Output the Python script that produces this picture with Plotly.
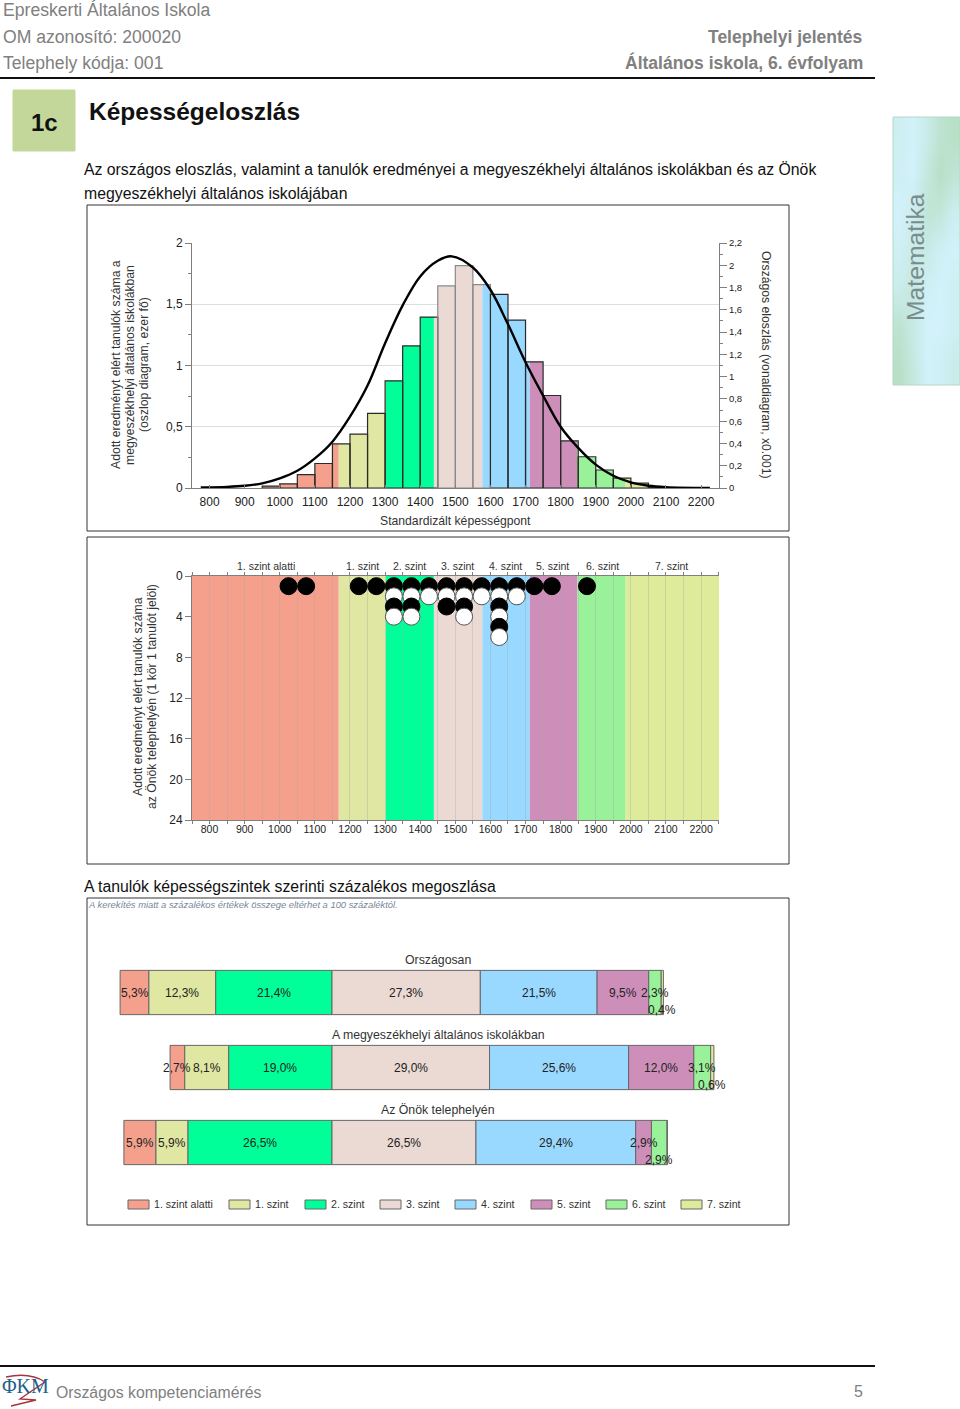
import plotly.graph_objects as go

W = 960
H = 1409
FONT = "Liberation Sans"

level_names = ["1. szint alatti", "1. szint", "2. szint", "3. szint", "4. szint", "5. szint", "6. szint", "7. szint"]
level_colors = ["#F4A08D", "#DFE7A2", "#00FF99", "#EBDAD3", "#99D9FF", "#CD8FBA", "#99F299", "#DEEB9A"]
level_edges = [750, 1168, 1302, 1439, 1577, 1712, 1848, 1985, 2251]
level_label_scores = [960, 1235, 1370, 1507, 1644, 1778, 1918, 2117]

# histogram of the county-seat schools, thousand students per 50 point bin
bin_left = [950, 1000, 1050, 1100, 1150, 1200, 1250, 1300, 1350, 1400, 1450, 1500,
            1550, 1600, 1650, 1700, 1750, 1800, 1850, 1900, 1950, 2000, 2050]
bin_values = [0.016, 0.033, 0.11, 0.20, 0.36, 0.44, 0.61, 0.875, 1.16, 1.395, 1.65, 1.815,
              1.66, 1.58, 1.37, 1.03, 0.755, 0.385, 0.255, 0.147, 0.08, 0.04, 0.01]
BIN_W = 50

# national distribution curve
curve_x = [775, 850, 900, 950, 1000, 1050, 1100, 1150, 1200, 1250, 1300, 1350, 1400, 1450,
           1490, 1550, 1600, 1650, 1700, 1750, 1800, 1850, 1900, 1950, 2000, 2050, 2100, 2225]
curve_y = [0.005, 0.01, 0.02, 0.042, 0.087, 0.155, 0.266, 0.416, 0.64, 0.92, 1.30, 1.64, 1.90, 2.04,
           2.08, 1.98, 1.78, 1.47, 1.13, 0.83, 0.55, 0.36, 0.21, 0.11, 0.05, 0.02, 0.008, 0.0]

# one circle per student, stacked in columns
dot_scores = [1025, 1075, 1225, 1275, 1325, 1375, 1425, 1475, 1525, 1575, 1625, 1675, 1725, 1775, 1875]
dot_counts = [1, 1, 1, 1, 4, 4, 2, 3, 4, 2, 6, 2, 1, 1, 1]

tick_scores = [800, 900, 1000, 1100, 1200, 1300, 1400, 1500, 1600, 1700, 1800, 1900, 2000, 2100, 2200]
left_ticks = [0, 0.5, 1, 1.5, 2]
left_ticktext = ["0", "0,5", "1", "1,5", "2"]
right_ticks = [0, 0.2, 0.4, 0.6, 0.8, 1, 1.2, 1.4, 1.6, 1.8, 2, 2.2]
right_ticktext = ["0", "0,2", "0,4", "0,6", "0,8", "1", "1,2", "1,4", "1,6", "1,8", "2", "2,2"]
dot_ticks = [0, 4, 8, 12, 16, 20, 24]

# percentage split
area_names = ["Országosan", "A megyeszékhelyi általános iskolákban", "Az Önök telephelyén"]
share_national = [5.3, 12.3, 21.4, 27.3, 21.5, 9.5, 2.3, 0.4]
share_county = [2.7, 8.1, 19.0, 29.0, 25.6, 12.0, 3.1, 0.6]
share_site = [5.9, 5.9, 26.5, 26.5, 29.4, 2.9, 2.9, 0.0]
shares = [share_national, share_county, share_site]


def xdom(a, b):
    return [a / W, b / W]


def ydom(top, bottom):
    return [1 - bottom / H, 1 - top / H]


annotations = []
shapes = []


def label(x, y, text, size=12, color="#222222", anchor="left", angle=0, bold=False, italic=False, family=FONT):
    if bold:
        text = "<b>" + text + "</b>"
    if italic:
        text = "<i>" + text + "</i>"
    annotations.append(dict(x=x / W, y=1 - y / H, xref="paper", yref="paper", text=text, showarrow=False,
                            xanchor=anchor, yanchor="middle", textangle=angle, align="center",
                            borderwidth=0, borderpad=0,
                            font=dict(family=family, size=size, color=color)))


def box(x0, y0, x1, y1, fill="rgba(0,0,0,0)", line="#333333", width=1):
    shapes.append(dict(type="rect", xref="paper", yref="paper", x0=x0 / W, x1=x1 / W,
                       y0=1 - y0 / H, y1=1 - y1 / H, fillcolor=fill, line=dict(color=line, width=width)))


def hline(x0, x1, y, width=2):
    shapes.append(dict(type="line", xref="paper", yref="paper", x0=x0 / W, x1=x1 / W,
                       y0=1 - y / H, y1=1 - y / H, line=dict(color="#111111", width=width)))


fig = go.Figure()

# chart 1: bars split along the level edges, then outlines on top
for i, left in enumerate(level_edges[:-1]):
    right = level_edges[i + 1]
    xs, ws, ys = [], [], []
    for b, v in zip(bin_left, bin_values):
        a = max(b, left)
        c = min(b + BIN_W, right)
        if c > a:
            xs.append((a + c) / 2)
            ws.append(c - a)
            ys.append(v)
    fig.add_bar(x=xs, y=ys, width=ws, marker=dict(color=level_colors[i], line=dict(width=0)),
                name=level_names[i], xaxis="x", yaxis="y")

outline = []
for b in bin_left:
    outline.append("#8a8a8a" if 1450 <= b < 1600 else "#2a2a2a")
fig.add_bar(x=[b + BIN_W / 2 for b in bin_left], y=bin_values, width=BIN_W,
            marker=dict(color="rgba(0,0,0,0)", line=dict(color=outline, width=1.2)),
            xaxis="x", yaxis="y", hoverinfo="skip")
fig.add_scatter(x=curve_x, y=curve_y, mode="lines", line=dict(color="#000000", width=2.4, shape="spline"),
                xaxis="x", yaxis="y2", name="Országos eloszlás")

# chart 2: level bands and student circles
for i, left in enumerate(level_edges[:-1]):
    shapes.append(dict(type="rect", xref="x2", yref="y3", x0=left, x1=level_edges[i + 1], y0=0, y1=24,
                       fillcolor=level_colors[i], line=dict(width=0), layer="below"))
    annotations.append(dict(x=level_label_scores[i], y=1 - 566 / H, xref="x2", yref="paper",
                            text=level_names[i], showarrow=False, font=dict(family=FONT, size=10.5, color="#333333")))

dot_x, dot_y, dot_fill, dot_line = [], [], [], []
for score, count in zip(dot_scores, dot_counts):
    for k in range(count):
        dot_x.append(score)
        dot_y.append(k + 1)
        dot_fill.append("#000000" if k % 2 == 0 else "#FFFFFF")
        dot_line.append("#000000" if k % 2 == 0 else "#555555")
fig.add_scatter(x=dot_x, y=dot_y, mode="markers", xaxis="x2", yaxis="y3", name="tanulók",
                marker=dict(size=17, color=dot_fill, line=dict(color=dot_line, width=1)))

# chart 3: stacked shares around the 2./3. level border
for j, name in enumerate(level_names):
    vals = [row[j] for row in shares]
    bases = [sum(row[:j]) - sum(row[:3]) for row in shares]
    fig.add_bar(y=[0, 1, 2], x=vals, base=bases, orientation="h", width=0.59, name=name,
                marker=dict(color=level_colors[j], line=dict(color="#666666", width=1)),
                xaxis="x3", yaxis="y4")
    for r, row in enumerate(shares):
        if row[j] == 0:
            continue
        # the thin last segments carry their label a bit lower
        low = (j == 7) or (r == 2 and j == 6)
        annotations.append(dict(x=bases[r] + vals[r] / 2, y=r, xref="x3", yref="y4", showarrow=False,
                                text=f"{row[j]:.1f}%".replace(".", ","), yshift=-17 if low else 0,
                                font=dict(family=FONT, size=12, color="#222222")))

# side tab gradient
tab_z = [[0.15, 0.0, 0.3, 0.8, 1.0],
         [0.1, 0.0, 0.5, 1.0, 0.7],
         [0.0, 0.2, 0.7, 0.6, 0.2],
         [0.1, 0.35, 0.4, 0.1, 0.0],
         [0.3, 0.5, 0.1, 0.0, 0.1],
         [0.8, 0.4, 0.0, 0.0, 0.1],
         [1.0, 0.5, 0.0, 0.1, 0.3]]
fig.add_heatmap(z=tab_z, zsmooth="best", showscale=False, hoverinfo="skip", xaxis="x4", yaxis="y5",
                colorscale=[[0, "#D2F1FA"], [1, "#B7E0C6"]])

axis_line = "#7f7f7f"
fig.update_layout(
    width=W,
    height=H,
    margin=dict(l=0, r=0, t=0, b=0, autoexpand=False),
    paper_bgcolor="white",
    plot_bgcolor="white",
    showlegend=False,
    barmode="overlay",
    font=dict(family=FONT, color="#222222"),
    xaxis=dict(domain=xdom(192, 719), anchor="y", range=[750, 2251], tickvals=tick_scores,
               ticktext=[str(t) for t in tick_scores], ticks="inside", ticklen=3, tickcolor=axis_line,
               showgrid=False, zeroline=False, showline=True, linecolor=axis_line, tickfont=dict(size=12),
               ticklabelstandoff=3),
    yaxis=dict(domain=ydom(243, 488), anchor="x", range=[0, 2], tickvals=left_ticks, ticktext=left_ticktext,
               ticks="outside", ticklen=6, tickcolor=axis_line, showline=True, linecolor=axis_line,
               gridcolor="#d9dfe0", gridwidth=1.2, zeroline=False, tickfont=dict(size=12),
               minor=dict(dtick=0.25, ticks="outside", ticklen=3, tickcolor=axis_line, showgrid=False)),
    yaxis2=dict(overlaying="y", side="right", anchor="x", range=[0, 2.2], tickvals=right_ticks,
                ticktext=right_ticktext, ticks="outside", ticklen=7, tickcolor=axis_line, showgrid=False,
                showline=True, linecolor=axis_line, zeroline=False, tickfont=dict(size=9.5),
                minor=dict(dtick=0.1, ticks="outside", ticklen=3, tickcolor=axis_line, showgrid=False)),
    xaxis2=dict(domain=xdom(192, 719), anchor="y3", range=[750, 2251], tickmode="array",
                tickvals=[s + d for s in tick_scores for d in (-50, 0)] + [2250],
                ticktext=[t for s in tick_scores for t in ("", str(s))] + [""],
                ticks="outside", ticklen=3, tickcolor=axis_line, showgrid=True,
                gridcolor="rgba(165,165,165,0.35)", zeroline=False, showline=True, linecolor=axis_line,
                mirror="ticks", tickfont=dict(size=10.5), ticklabelstandoff=-4),
    yaxis3=dict(domain=ydom(576, 820), anchor="x2", range=[24, 0], tickvals=dot_ticks, ticks="outside",
                ticklen=6, tickcolor=axis_line, showgrid=False, zeroline=False, showline=True,
                linecolor=axis_line, tickfont=dict(size=12)),
    xaxis3=dict(domain=xdom(100, 740), anchor="y4", range=[-42.7, 75.1], visible=False),
    yaxis4=dict(domain=ydom(955, 1180), anchor="x3", range=[2.5, -0.5], visible=False),
    xaxis4=dict(domain=xdom(893, 960), anchor="y5", visible=False),
    yaxis5=dict(domain=ydom(117, 385), anchor="x4", autorange="reversed", visible=False),
)

# page header
gray = "#808080"
label(3, 10, "Epreskerti Általános Iskola", 17.6, gray)
label(3, 37, "OM azonosító: 200020", 17.6, gray)
label(3, 63, "Telephely kódja: 001", 17.6, gray)
label(863, 37, "Telephelyi jelentés", 17.5, gray, "right", bold=True)
label(863, 63, "Általános iskola, 6. évfolyam", 17.5, gray, "right", bold=True)
hline(0, 875, 78)
box(13, 90, 75, 151, fill="#C4D79B", line="#C4D79B")
label(44, 122, "1c", 24, "#111111", "center", bold=True)
label(89, 111, "Képességeloszlás", 24.5, "#111111", bold=True)
label(84, 169.5, "Az országos eloszlás, valamint a tanulók eredményei a megyeszékhelyi általános iskolákban és az Önök", 15.8, "#111111")
label(84, 193.5, "megyeszékhelyi általános iskolájában", 15.8, "#111111")
label(84, 887, "A tanulók képességszintek szerinti százalékos megoszlása", 15.8, "#111111")

# chart frames
box(87, 205, 789, 531)
box(87, 537, 789, 864)
box(87, 898, 789, 1225)

# axis titles, one label per line to keep the tight line spacing
label(116, 365, "Adott eredményt elért tanulók száma a", 12.2, "#333333", "center", -90)
label(130, 365, "megyeszékhelyi általános iskolákban", 12.2, "#333333", "center", -90)
label(144, 365, "(oszlop diagram, ezer fő)", 12.2, "#333333", "center", -90)
label(766, 365, "Országos eloszlás (vonaldiagram, x0.001)", 12.2, "#333333", "center", 90)
label(455, 521, "Standardizált képességpont", 12.2, "#333333", "center")
label(138, 697, "Adott eredményt elért tanulók száma", 12.2, "#333333", "center", -90)
label(152, 697, "az Önök telephelyén (1 kör 1 tanulót jelöl)", 12.2, "#333333", "center", -90)

# chart 3 texts
label(88, 905, "A kerekítés miatt a százalékos értékek összege eltérhet a 100 százaléktól.", 9.4, "#76879a", italic=True)
label(438, 960, area_names[0], 12.3, "#333333", "center")
label(438, 1035, area_names[1], 12.3, "#333333", "center")
label(438, 1110, area_names[2], 12.3, "#333333", "center")

# legend row
legend_left = [128, 229, 305, 380, 455, 531, 606, 681]
for left, name, color in zip(legend_left, level_names, level_colors):
    box(left, 1200, left + 21, 1209, fill=color, line="#666666")
    label(left + 26, 1204, name, 10.6, "#333333")

# side tab title
shapes.append(dict(type="rect", xref="paper", yref="paper", x0=893 / W, x1=1, y0=1 - 117 / H, y1=1 - 385 / H,
                   line=dict(color="#B5D8C5", width=1), layer="above"))
label(915, 257, "Matematika", 24.7, "#7A8C8C", "center", -90)

# footer
hline(0, 875, 1366)
label(56, 1392, "Országos kompetenciamérés", 15.8, gray)
label(863, 1391, "5", 16, gray, "right")
label(25, 1386, "ΦKM", 20, "#1F5F8B", "center", family="Liberation Serif")
shapes.append(dict(type="path", xref="paper", yref="paper",
                   path=" ".join([f"M {6 / W} {1 - 1377 / H}", f"Q {30 / W} {1 - 1372 / H} {45 / W} {1 - 1382 / H}",
                                  f"Q {30 / W} {1 - 1392 / H} {20 / W} {1 - 1399 / H}",
                                  f"L {36 / W} {1 - 1400 / H}", f"L {11 / W} {1 - 1406 / H}"]),
                   line=dict(color="#A8343C", width=1.5)))

fig.update_layout(annotations=annotations, shapes=shapes)

fig.write_html("out.html", config=dict(displayModeBar=False),
               post_script="document.body.style.margin='0';document.body.style.overflow='hidden';")
